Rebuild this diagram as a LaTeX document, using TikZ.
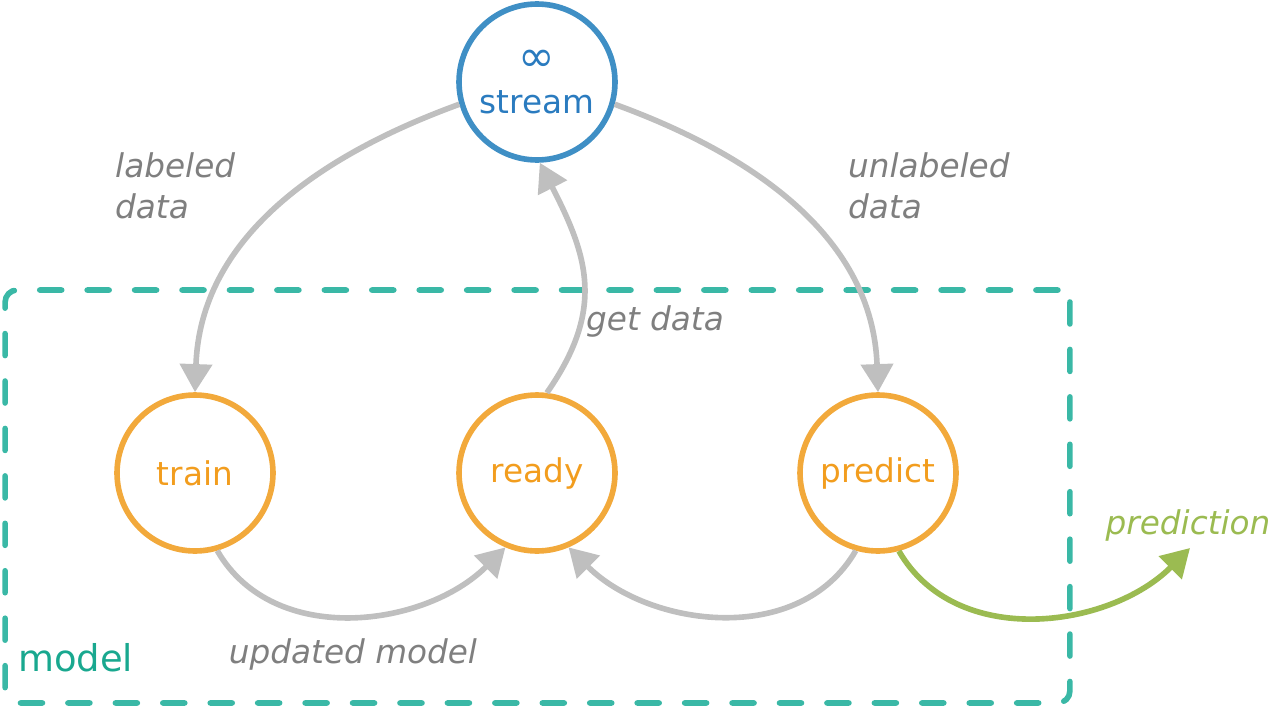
\documentclass[tikz,border=0pt]{standalone}
\usepackage{fontspec}
\setmainfont{DejaVu Sans}
\usetikzlibrary{arrows.meta, positioning}

\definecolor{streamblue}{HTML}{3F8FC5}
\definecolor{streamtext}{HTML}{2A7BBF}
\definecolor{stateorange}{HTML}{F2A93B}
\definecolor{statetext}{HTML}{F29D1E}
\definecolor{arrowgray}{HTML}{BFBFBF}
\definecolor{notegray}{HTML}{7F7F7F}
\definecolor{modelteal}{HTML}{3AB8A6}
\definecolor{modeltext}{HTML}{19A88F}
\definecolor{predgreen}{HTML}{9BBB51}

\begin{document}
\begin{tikzpicture}
        [
        x=0.02cm, y=0.02cm,
        state/.style={draw=stateorange, text=statetext, circle, line width=3.2pt, minimum size=3.12cm, font=\fontsize{18.6}{22}\selectfont},
        arrow/.style={-{Triangle[length=16pt, width=18pt]}, line width=3.2pt, draw=arrowgray},
        note/.style={text=notegray, font=\fontsize{18.6}{23}\selectfont\itshape, align=left},
        modelbox/.style={draw=modelteal, line width=3.2pt, dash pattern=on 12.5pt off 14.5pt, line cap=round, rounded corners=0.24cm, minimum width=21.3cm, minimum height=8.26cm}
        ]

        \useasboundingbox (0,0) rectangle (1270,708);

        \node[modelbox] (model) at (537.5,211.5) {};
        \node[anchor=west, text=modeltext, font=\fontsize{21}{24}\selectfont] (modellabel) at (12,50) {model};

        \node[state, draw=streamblue, text=streamtext, align=center] (stream) at (537,626) {{\fontsize{25}{25}\selectfont ∞}\\[2pt]stream};
        \node[state] (train) at (195,235) {train};
        \node[state] (ready) at (537,235) {ready};
        \node[state] (predict) at (878,235) {predict};

        \node[note, anchor=west] (labeled) at (109,522) {labeled\\data};
        \node[note, anchor=west] (unlabeled) at (842,522) {unlabeled\\data};
        \node[note] (getdata) at (655,387) {get data};
        \node[note] (updated) at (353,54) {updated model};
        \node[note, text=predgreen] (prediction) at (1188,183) {prediction};
        \coordinate (predtip) at (1190,160);

        \draw[arrow] (stream.196) to[out=200, in=88] (train.north);
        \draw[arrow] (stream.-16) to[out=-20, in=92] (predict.north);
        \draw[arrow] (ready.83) to[out=55, in=-63, looseness=1.15] (stream.-88);
        \draw[arrow] (train.-74) to[out=-60, in=-135] (ready.-113);
        \draw[arrow] (predict.-106) to[out=-120, in=-45] (ready.-67);
        \draw[arrow, draw=predgreen] (predict.-75) to[out=-60, in=-135] (predtip);

    \end{tikzpicture}
\end{document}
